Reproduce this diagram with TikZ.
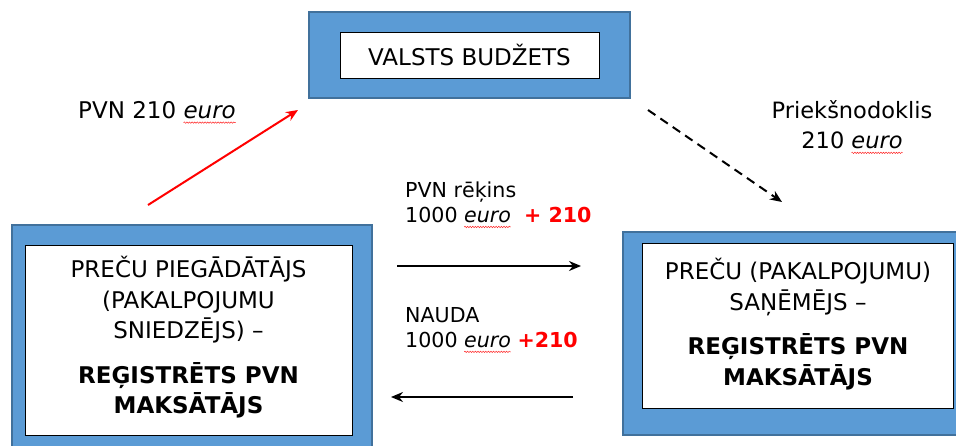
\documentclass[tikz,border=0pt]{standalone}
\usepackage{fontspec}
\setmainfont{DejaVu Sans}
\usetikzlibrary{arrows.meta,decorations.pathmorphing}
\definecolor{boxblue}{HTML}{5B9BD5}
\definecolor{boxedge}{HTML}{41719C}
\newcommand\eu{\tikz[baseline=(w.base)]{\node[inner sep=0pt,outer sep=0pt](w){\itshape euro};\draw[overlay,red!85,line width=0.5pt,decorate,decoration={snake,amplitude=0.7pt,segment length=2.6pt}] ([yshift=-0.2em]w.base west)--([yshift=-0.2em]w.base east);}}
\newcommand\bigf{\fontsize{23}{30.5}\selectfont}
\newcommand\smallf{\fontsize{20.6}{25}\selectfont}
\tikzset{
  bluebox/.style={draw=boxedge,line width=1.5pt,fill=boxblue,inner sep=0pt},
  whitebox/.style={draw=black,line width=0.8pt,fill=white,inner sep=0pt},
  boxtext/.style={align=center,inner sep=0pt,font=\bigf},
  lbl/.style={inner sep=0pt,align=left},
  flow/.style={line width=1.6pt,-{Stealth[length=12pt,width=10pt]}},
}
\begin{document}
\begin{tikzpicture}[x=1pt,y=-1pt]
\useasboundingbox[fill=white] (0,0) rectangle (956,445);
% top box
\node[bluebox,minimum width=321pt,minimum height=86pt] (tb) at (469.5,55) {};
\node[whitebox,minimum width=259pt,minimum height=46pt] (tw) at (469.5,55) {};
\node[boxtext] (tt) at (tw.center) {VALSTS BUDŽETS};
% left box
\node[bluebox,minimum width=360pt,minimum height=230pt] (lb) at (192,340) {};
\node[whitebox,minimum width=327pt,minimum height=190pt] (lw) at (188.5,340) {};
\node[boxtext] (lt) at (188.5,337.5) {PREČU PIEGĀDĀTĀJS\\(PAKALPOJUMU\\SNIEDZĒJS) –\\[14pt]\textbf{REĢISTRĒTS PVN}\\\textbf{MAKSĀTĀJS}};
% right box
\node[bluebox,minimum width=340pt,minimum height=203pt] (rb) at (793,333.5) {};
\node[whitebox,minimum width=311pt,minimum height=165pt] (rw) at (797.5,325.5) {};
\node[boxtext] (rt) at (798,324) {PREČU (PAKALPOJUMU)\\SAŅĒMĒJS –\\[14pt]\textbf{REĢISTRĒTS PVN}\\\textbf{MAKSĀTĀJS}};
% labels
\node[lbl,anchor=base west,font=\bigf] (l1) at (78,118) {PVN 210 \eu};
\node[boxtext,font=\fontsize{22.5}{30}\selectfont] (l2) at (852,124.5) {Priekšnodoklis\\210 \eu};
\node[lbl,anchor=north west,font=\smallf] (l3) at (405,182) {PVN rēķins\\1000 \eu\ \ \textcolor{red}{\textbf{+ 210}}};
\node[lbl,anchor=north west,font=\smallf] (l4) at (405,307.5) {NAUDA\\1000 \eu\ \textcolor{red}{\textbf{+210}}};
% arrow endpoints
\coordinate (ra) at (148,205);
\coordinate (rb2) at (298,110);
\coordinate (da) at (648,110);
\coordinate (db) at (782,202);
\coordinate (fa) at (397,266);
\coordinate (fb) at (581,266);
\coordinate (ba) at (573,397);
\coordinate (bb) at (391,397);
\draw[flow,red,line width=2pt] (ra) -- (rb2);
\draw[flow,line width=2pt,dash pattern=on 9pt off 6pt] (da) -- (db);
\draw[flow] (fa) -- (fb);
\draw[flow] (ba) -- (bb);
\end{tikzpicture}
\end{document}
